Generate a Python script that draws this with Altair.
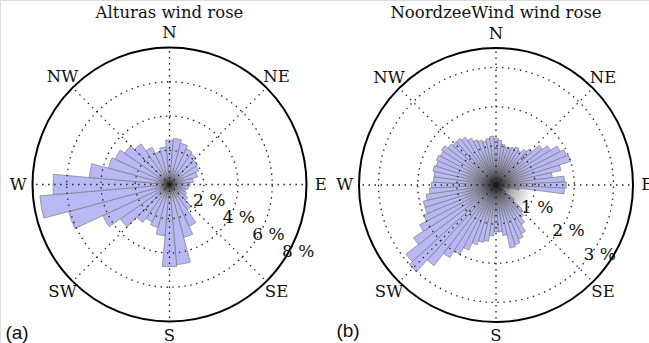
import math
import altair as alt
import pandas as pd

# ---------------- data ----------------
left_bearings = list(range(0, 360, 10))
left_values = [2.6, 2.7, 2.5, 2.3, 2.2, 2.0, 1.9, 1.7, 1.4, 1.2, 1.1, 1.0,
               1.1, 1.3, 1.8, 2.7, 3.2, 4.7, 4.8, 3.0, 2.6, 2.4, 2.7, 3.5,
               4.3, 6.1, 7.6, 6.8, 4.7, 3.7, 3.5, 3.2, 2.9, 2.4, 2.0, 2.2]

right_bearings = list(range(0, 360, 5))
right_values = [1.2, 1.15, 1.05, 1.0, 1.0, 1.05, 1.1, 1.05, 1.15, 1.25, 1.5, 1.65,
                1.85, 1.95, 2.0, 1.7, 1.45, 1.75, 1.8, 1.75, 0.6, 0.35, 0.2, 0.15,
                0.2, 0.3, 0.6, 0.9, 1.05, 1.2, 1.4, 1.5, 1.6, 1.65, 1.3, 1.2,
                1.2, 1.3, 1.45, 1.5, 1.6, 1.8, 2.0, 2.2, 2.6, 3.0, 2.9, 2.5,
                2.2, 2.0, 1.9, 1.9, 1.8, 1.7, 1.65, 1.6, 1.6, 1.65, 1.6, 1.65,
                1.6, 1.65, 1.55, 1.5, 1.5, 1.45, 1.35, 1.25, 1.2, 1.15, 1.2, 1.25]

compass_names = ["N", "NE", "E", "SE", "S", "SW", "W", "NW"]
compass_bearings = [0, 45, 90, 135, 180, 225, 270, 315]

left_rings = [2, 4, 6]
left_ring_labels = [2, 4, 6, 8]
right_rings = [1, 2, 3]
right_ring_labels = [1, 2, 3]

BAR_FILL = "#b8b8f4"
SERIF = "DejaVu Serif"
DOTS = [1.4, 4.6]

HAZE = {
    "gradient": "radial",
    "x1": 0.5, "y1": 0.5, "r1": 0, "x2": 0.5, "y2": 0.5, "r2": 0.5,
    "stops": [
        {"offset": 0, "color": "rgba(10,10,10,1)"},
        {"offset": 0.15, "color": "rgba(40,40,40,0.8)"},
        {"offset": 0.45, "color": "rgba(90,90,90,0.5)"},
        {"offset": 0.8, "color": "rgba(120,120,120,0.22)"},
        {"offset": 1, "color": "rgba(140,140,140,0)"},
    ],
}


def rose(cx, cy, R, rmax, bearings, values, binw, rings, ring_labels,
         label_bearing, haze_r, title, tag, tag_xy):
    xs = alt.Scale(domain=[-rmax, rmax], range=[cx - R, cx + R])
    ys = alt.Scale(domain=[-rmax, rmax], range=[cy + R, cy - R])
    ts = alt.Scale(domain=[0, 360], range=[0, 2 * math.pi])
    rs = alt.Scale(type="linear", domain=[0, rmax], range=[0, R], zero=True)

    def X(f):
        return alt.X(f, type="quantitative", scale=xs, axis=None)

    def Y(f):
        return alt.Y(f, type="quantitative", scale=ys, axis=None)

    bars = alt.Chart(pd.DataFrame({"b": bearings, "v": values})).transform_calculate(
        t0=f"datum.b - {binw / 2}", t1=f"datum.b + {binw / 2}", c="0"
    ).mark_arc(fill=BAR_FILL, stroke="#707070", strokeWidth=0.7, strokeOpacity=0.85).encode(
        x=X("c"), y=Y("c"),
        theta=alt.Theta("t0:Q", scale=ts, stack=None), theta2="t1:Q",
        radius=alt.Radius("v:Q", scale=rs, stack=None),
    )

    haze = alt.Chart(pd.DataFrame({"r": [haze_r]})).transform_calculate(
        t0="0", t1="360", c="0"
    ).mark_arc(fill=HAZE).encode(
        x=X("c"), y=Y("c"),
        theta=alt.Theta("t0:Q", scale=ts, stack=None), theta2="t1:Q",
        radius=alt.Radius("r:Q", scale=rs, stack=None),
    )

    ring_layer = alt.Chart(pd.DataFrame({"r": rings})).transform_calculate(
        t0="0", t1="360", c="0"
    ).mark_arc(fillOpacity=0, stroke="#1a1a1a", strokeWidth=1.3, strokeDash=DOTS).encode(
        x=X("c"), y=Y("c"),
        theta=alt.Theta("t0:Q", scale=ts, stack=None), theta2="t1:Q",
        radius=alt.Radius("r:Q", scale=rs, stack=None),
    )

    outer = alt.Chart(pd.DataFrame({"r": [rmax]})).transform_calculate(
        t0="0", t1="360", c="0"
    ).mark_arc(fillOpacity=0, stroke="black", strokeWidth=2).encode(
        x=X("c"), y=Y("c"),
        theta=alt.Theta("t0:Q", scale=ts, stack=None), theta2="t1:Q",
        radius=alt.Radius("r:Q", scale=rs, stack=None),
    )

    spokes = alt.Chart(pd.DataFrame({"b": compass_bearings})).transform_calculate(
        x0="0", y0="0",
        x1=f"{rmax} * sin(datum.b * PI / 180)",
        y1=f"{rmax} * cos(datum.b * PI / 180)",
    ).mark_rule(stroke="#1a1a1a", strokeWidth=1.3, strokeDash=DOTS).encode(
        x=X("x0"), y=Y("y0"), x2="x1:Q", y2="y1:Q"
    )

    lr = rmax * 1.105
    compass = alt.Chart(pd.DataFrame({"name": compass_names, "b": compass_bearings})).transform_calculate(
        px=f"{lr} * sin(datum.b * PI / 180)",
        py=f"{lr} * cos(datum.b * PI / 180)",
    ).mark_text(font=SERIF, fontSize=16.5, color="#111111", baseline="middle", align="center").encode(
        x=X("px"), y=Y("py"), text="name:N"
    )

    rlab = alt.Chart(pd.DataFrame({"r": ring_labels})).transform_calculate(
        px=f"datum.r * sin({label_bearing} * PI / 180)",
        py=f"datum.r * cos({label_bearing} * PI / 180)",
        txt="datum.r + ' %'",
    ).mark_text(font=SERIF, fontSize=17, color="#111111", baseline="middle", align="center",
                dx=10, dy=-1).encode(
        x=X("px"), y=Y("py"), text="txt:N"
    )

    ttl = alt.Chart(pd.DataFrame({"t": [title]})).mark_text(
        font=SERIF, fontSize=16.5, color="#111111", baseline="middle", align="center"
    ).encode(x=alt.value(cx), y=alt.value(13), text="t:N")

    tg = alt.Chart(pd.DataFrame({"t": [tag]})).mark_text(
        font="Liberation Sans", fontSize=19, color="#111111", baseline="middle", align="center"
    ).encode(x=alt.value(tag_xy[0]), y=alt.value(tag_xy[1]), text="t:N")

    return alt.layer(bars, haze, ring_layer, spokes, outer, compass, rlab, ttl, tg)


left = rose(169.5, 184.5, 137, 8, left_bearings, left_values, 10,
            left_rings, left_ring_labels, 120, 1.0, "Alturas wind rose", "(a)", (17, 333))
right = rose(496, 185, 137, 3.5, right_bearings, right_values, 5,
             right_rings, right_ring_labels, 127, 0.95, "NoordzeeWind wind rose", "(b)", (348, 331))

chart = alt.layer(left, right).resolve_scale(
    x="independent", y="independent", theta="independent", radius="independent"
).properties(
    width=649, height=343, padding=0, autosize=alt.AutoSizeParams(type="none")
).configure_view(stroke=None).configure(background="white")

chart.save("out.html", embed_options={"renderer": "svg", "actions": False})
